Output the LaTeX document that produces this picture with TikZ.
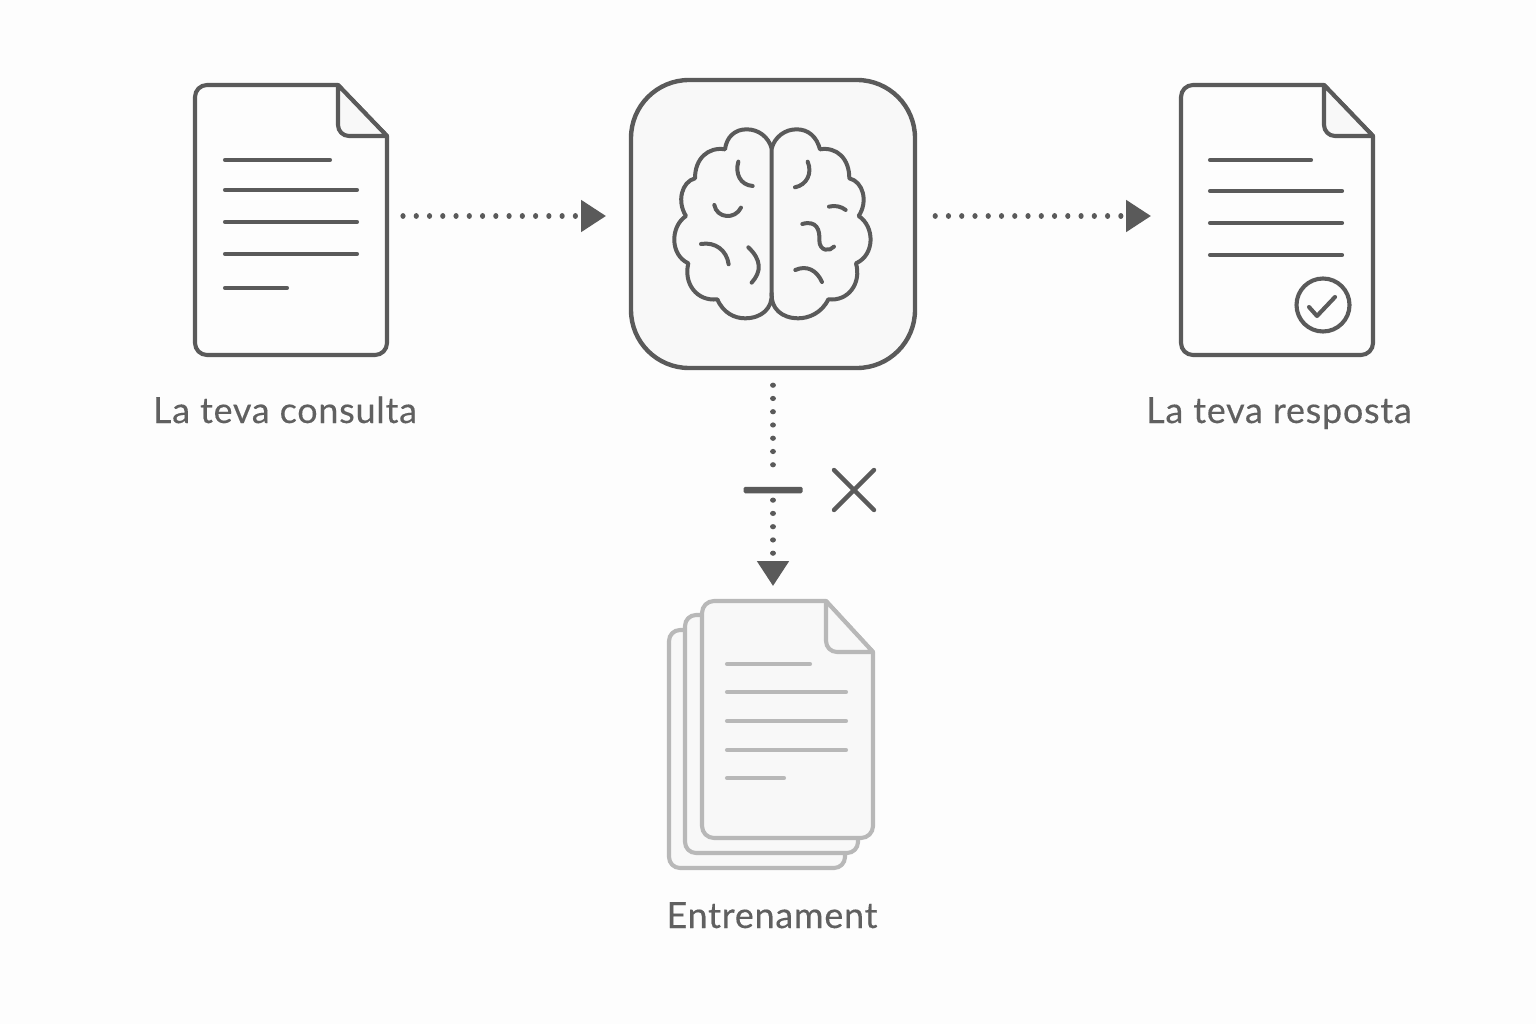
\documentclass[tikz,border=0pt]{standalone}
\usepackage{fontspec}
\setmainfont{Lato}[FakeBold=0.25,LetterSpace=2]
\usetikzlibrary{arrows.meta}
\definecolor{ink}{HTML}{5A5A5A}
\definecolor{pale}{HTML}{B8B8B8}
\definecolor{bgc}{HTML}{FDFDFD}
\definecolor{foldc}{HTML}{F8F8F8}
\definecolor{labelc}{HTML}{606060}
% \docpage{left}{top}{right}{bottom}{fold x}{fold y}{page fill}
\newcommand{\docpage}[7]{%
  \draw[docline,fill=#7] (#1+12,#2) -- (#5,#2) -- (#3,#6) -- (#3,#4-12)
    arc[start angle=0,end angle=90,radius=12] -- (#1+12,#4)
    arc[start angle=90,end angle=180,radius=12] -- (#1,#2+12)
    arc[start angle=180,end angle=270,radius=12] -- cycle;
  \draw[docline,fill=foldc] (#5,#2) -- (#5,#6-11)
    arc[start angle=180,end angle=90,radius=11] -- (#3,#6) -- cycle;
}
\tikzset{
  x=1pt,y=-1pt,
  docline/.style={line width=4.1pt,line join=round,line cap=round},
  holder/.style={draw=none,fill=none,inner sep=0pt,outer sep=0pt},
  dotline/.style={draw=ink,line width=5.2pt,line cap=round,dash pattern=on 0.01pt off 13.25pt},
  tip/.style={-{Triangle[length=25pt,width=31pt,fill=ink]}},
  textline/.style={line width=4.1pt,line cap=round},
  lbl/.style={text=labelc,font=\fontsize{36pt}{42pt}\selectfont,inner sep=0pt,anchor=base},
}
\begin{document}
\begin{tikzpicture}
\useasboundingbox[fill=bgc] (0,0) rectangle (1536,1024);

% source document
\begin{scope}[draw=ink]
\docpage{195}{85}{387}{355}{338}{136}{bgc}
\foreach \yy/\xe in {160/330,190/357,222/357,254/357,288/287}
  \draw[textline] (225,\yy) -- (\xe,\yy);
\end{scope}
\node[holder,minimum width=192pt,minimum height=270pt] (query) at (291,220) {};
\node[lbl] (querylabel) at (285,423) {La teva consulta};

% brain box
\node[draw=ink,line width=4.4pt,fill=foldc,rounded corners=58pt,minimum width=284pt,minimum height=288pt,inner sep=0pt] (brain) at (773,224) {};
\begin{scope}[shift={(620,70)},x=0.3333pt,y=-0.3333pt,draw=ink,line width=4pt,line cap=round,line join=round]
\draw (455,235) .. controls (445,200) and (415,178) .. (380,178)
  .. controls (345,178) and (320,200) .. (315,238)
  .. controls (265,230) and (225,265) .. (225,325)
  .. controls (185,335) and (170,395) .. (198,438)
  .. controls (150,470) and (150,555) .. (205,580)
  .. controls (190,640) and (230,695) .. (292,688)
  .. controls (310,730) and (345,745) .. (375,745)
  .. controls (425,745) and (458,715) .. (455,670) -- cycle;
\draw (455,235) .. controls (465,200) and (495,178) .. (530,178)
  .. controls (565,178) and (590,200) .. (600,238)
  .. controls (650,230) and (688,265) .. (688,325)
  .. controls (730,335) and (745,395) .. (716,438)
  .. controls (765,470) and (765,555) .. (708,580)
  .. controls (725,640) and (685,695) .. (625,688)
  .. controls (605,730) and (565,745) .. (535,745)
  .. controls (485,745) and (452,715) .. (455,670);
\draw (355,275) .. controls (345,310) and (360,345) .. (398,348);
\draw (283,405) .. controls (290,445) and (345,450) .. (363,413);
\draw (243,522) .. controls (285,515) and (320,540) .. (326,583);
\draw (385,532) .. controls (425,570) and (425,605) .. (395,638);
\draw (563,275) .. controls (578,310) and (560,345) .. (525,352);
\draw (627,410) .. controls (645,405) and (665,410) .. (677,420);
\draw (547,462) .. controls (590,450) and (600,480) .. (598,510) .. controls (598,545) and (630,545) .. (642,530);
\draw (526,600) .. controls (560,585) and (590,600) .. (606,636);
\end{scope}

% answer document
\begin{scope}[draw=ink]
\docpage{1181}{85}{1373}{355}{1324}{136}{bgc}
\foreach \yy/\xe in {160/1311,191/1342,223/1342,255/1342}
  \draw[textline] (1210,\yy) -- (\xe,\yy);
\end{scope}
\node[draw=ink,line width=4.1pt,circle,minimum size=53pt,inner sep=0pt] (okmark) at (1323,305) {};
\draw[ink,line width=4.1pt,line cap=round,line join=round] (1309,307) -- (1317,316) -- (1335,297);
\node[holder,minimum width=192pt,minimum height=270pt] (answer) at (1277,220) {};
\node[lbl] (answerlabel) at (1279,423) {La teva resposta};

% training stack
\begin{scope}[draw=pale]
\draw[docline,fill=foldc,rounded corners=11pt] (710,630) -- (669,630) -- (669,868) -- (845,868) -- (845,825);
\draw[docline,fill=foldc,rounded corners=11pt] (710,615) -- (685,615) -- (685,853) -- (858,853) -- (858,825);
\docpage{702}{601}{873}{838}{826}{652}{foldc}
\foreach \yy/\xe in {664/810,692/846,721/846,750/846,778/784}
  \draw[textline] (727,\yy) -- (\xe,\yy);
\end{scope}
\node[holder,minimum width=171pt,minimum height=237pt] (training) at (773,719.5) {};
\node[lbl] (trainlabel) at (772,928) {Entrenament};

% blocking bar and cross
\node[fill=ink,rounded corners=1.5pt,minimum width=59pt,minimum height=6.5pt,inner sep=0pt] (block) at (773,490) {};
\draw[ink,line width=4.4pt,line cap=round] (834,470) -- (874,510);
\draw[ink,line width=4.4pt,line cap=round] (874,470) -- (834,510);

% connectors
\draw[dotline,tip,shorten <=16pt,shorten >=22.8pt] ([yshift=4pt]query.east) -- ([yshift=8pt]brain.west);
\draw[dotline,tip,shorten <=18pt,shorten >=30pt] ([yshift=8pt]brain.east) -- ([yshift=4pt]answer.west);
\draw[dotline,shorten <=15pt,shorten >=9pt] (brain.south) -- (block.north);
\draw[dotline,tip,shorten <=6.7pt,shorten >=15pt] (block.south) -- (training.north);
\end{tikzpicture}
\end{document}
